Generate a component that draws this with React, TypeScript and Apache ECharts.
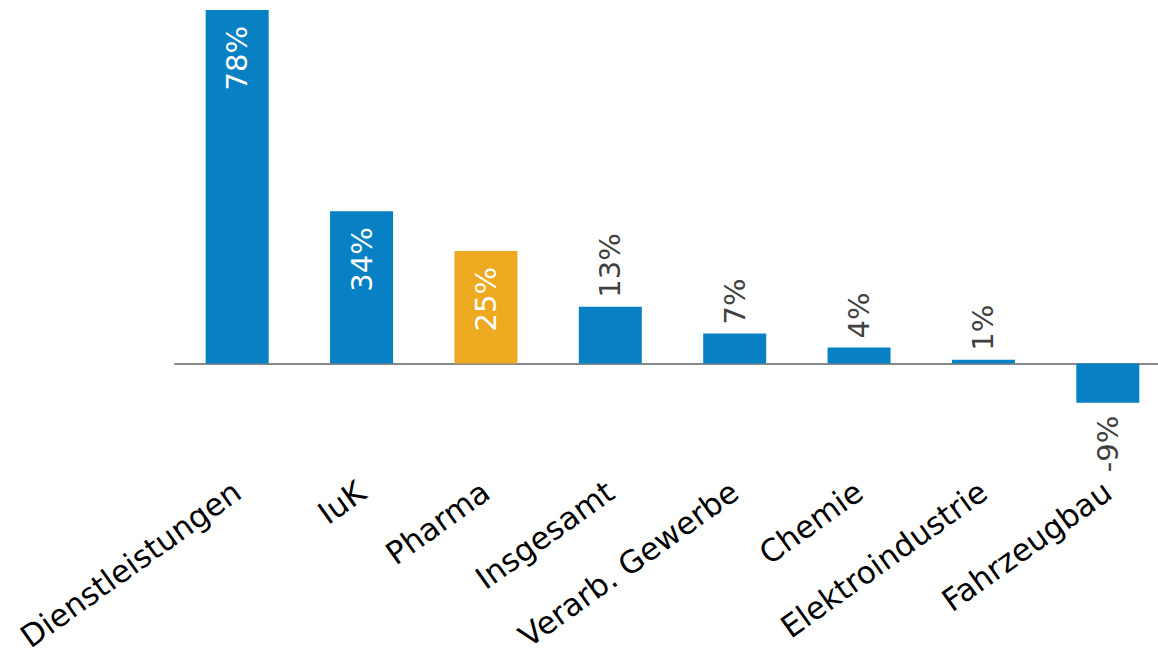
import React, { useEffect, useRef } from "react";
import * as echarts from "echarts";

const categories = [
  "Dienstleistungen",
  "IuK",
  "Pharma",
  "Insgesamt",
  "Verarb. Gewerbe",
  "Chemie",
  "Elektroindustrie",
  "Fahrzeugbau",
];
const values = [78.0, 33.6, 24.8, 12.5, 6.6, 3.5, 0.8, -8.7];
const highlighted = ["Pharma"];
const insideLabels = ["Dienstleistungen", "IuK", "Pharma"];

const BLUE = "#0781c3";
const ORANGE = "#eda920";
const FONT = "Verdana, DejaVu Sans, sans-serif";

export default function App() {
  const ref = useRef<HTMLDivElement>(null);
  useEffect(() => {
    if (!ref.current) return;
    const chart = echarts.init(ref.current, undefined, { renderer: "svg" });
    const data = values.map((v, i) => {
      const cat = categories[i];
      const inside = insideLabels.includes(cat);
      const label = inside
        ? { position: "insideTop", align: "right", verticalAlign: "middle", distance: 16, color: "#ffffff" }
        : v >= 0
        ? { position: "top", align: "left", verticalAlign: "middle", distance: 9, color: "#404040" }
        : { position: "bottom", align: "right", verticalAlign: "middle", distance: 13, color: "#404040" };
      return {
        value: v,
        itemStyle: { color: highlighted.includes(cat) ? ORANGE : BLUE },
        label,
      };
    });
    chart.setOption({
      animation: false,
      grid: {
        left: 175,
        right: -12,
        top: 10,
        bottom: 203,
        containLabel: false,
        outerBoundsMode: "none",
      },
      xAxis: [
        {
          type: "category",
          data: categories,
          axisLine: { show: true, onZero: true, lineStyle: { color: "#888888", width: 2 } },
          axisTick: { show: false },
          axisLabel: { show: false },
          splitLine: { show: false },
        },
        {
          type: "category",
          data: categories,
          position: "bottom",
          axisLine: { show: false, onZero: false },
          axisTick: { show: false },
          axisLabel: {
            show: true,
            rotate: 35.5,
            margin: 34,
            fontSize: 31,
            color: "#000000",
            fontFamily: FONT,
            interval: 0,
          },
          splitLine: { show: false },
        },
      ],
      yAxis: {
        type: "value",
        min: -20,
        max: 78,
        show: false,
        splitLine: { show: false },
      },
      series: [
        {
          type: "bar",
          xAxisIndex: 0,
          barWidth: 63,
          data,
          label: {
            show: true,
            rotate: 90,
            fontSize: 29,
            fontFamily: FONT,
            formatter: (p: any) => `${Math.round(p.value)}%`,
          },
        },
      ],
    });
    return () => chart.dispose();
  }, []);
  return (
    <div
      ref={ref}
      style={{ position: "fixed", left: 0, top: 0, width: 1158, height: 657, background: "#fff" }}
    />
  );
}
